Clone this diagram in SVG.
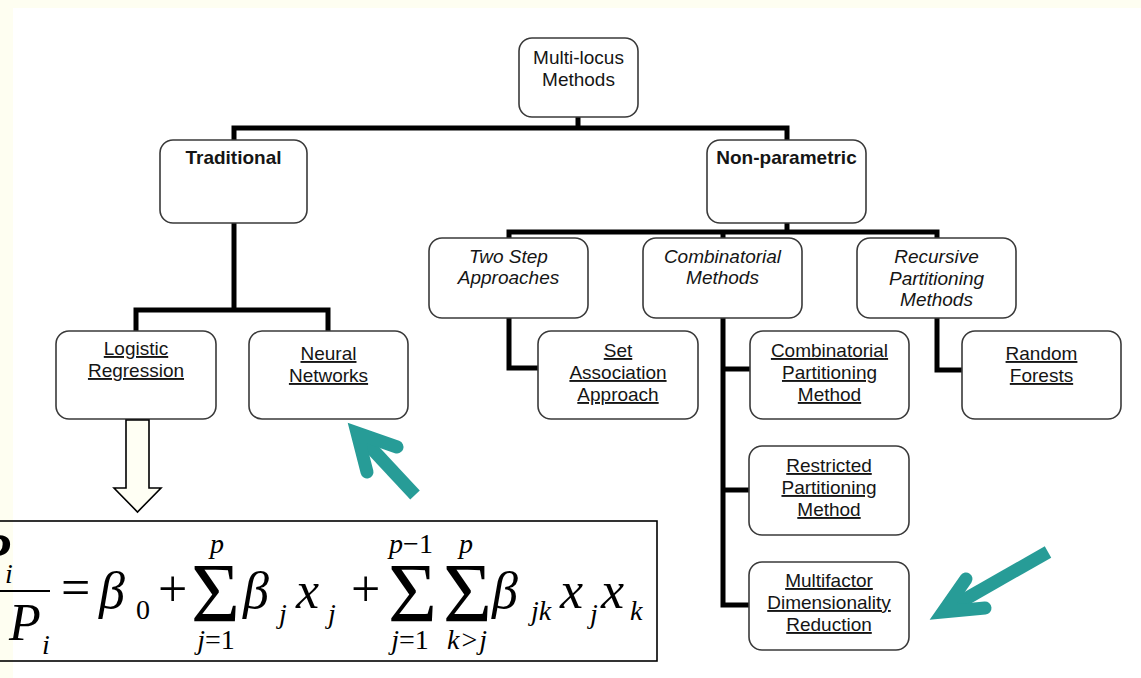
<svg xmlns="http://www.w3.org/2000/svg" width="1141" height="678" viewBox="0 0 1141 678">
<style>
.box{fill:#fff;stroke:#3a3a3a;stroke-width:1.6}
.t{font-family:"Liberation Sans",Arial,sans-serif;font-size:19px;fill:#151515;text-anchor:middle}
.b{font-weight:bold}
.i{font-style:italic}
.u{text-decoration:underline}
.conn{fill:none;stroke:#000;stroke-width:5;stroke-linejoin:miter;stroke-linecap:butt}
.f{font-family:"Liberation Serif","Times New Roman",serif;fill:#000}
.fi{font-style:italic}
.big{font-size:52px}
.sm{font-size:28px}
.sig{font-size:84px}
.teal{fill:none;stroke:#279C97;stroke-width:13}
</style>
<rect x="0" y="0" width="1141" height="678" fill="#FEFEF1"/>
<rect x="13" y="8" width="1128" height="670" fill="#fff"/>

<g id="connectors">
<path class="conn" d="M578,117 V128"/>
<path class="conn" d="M234,140 V128 H787 V140"/>
<path class="conn" d="M234,223 V310"/>
<path class="conn" d="M136,331 V310 H328 V331"/>
<path class="conn" d="M787,223 V232"/>
<path class="conn" d="M509,238 V232 H937 V238"/>
<path class="conn" d="M723,232 V238"/>
<path class="conn" d="M509,318 V368 H538"/>
<path class="conn" d="M937,318 V370 H962"/>
<path class="conn" d="M723,318 V605 H749"/>
<path class="conn" d="M723,369 H750"/>
<path class="conn" d="M723,490 H749"/>
</g>

<g id="root">
<rect class="box" x="519" y="38" width="119" height="79" rx="13"/>
<text class="t" x="578.5" y="64">Multi-locus</text>
<text class="t" x="578.5" y="86">Methods</text>
</g>
<g id="traditional">
<rect class="box" x="160" y="140" width="147" height="83" rx="13"/>
<text class="t b" x="233.5" y="164">Traditional</text>
</g>
<g id="nonparametric">
<rect class="box" x="707" y="140" width="159" height="83" rx="13"/>
<text class="t b" x="786.5" y="164">Non-parametric</text>
</g>
<g id="logistic">
<rect class="box" x="56" y="331" width="160" height="88" rx="13"/>
<text class="t u" x="136" y="355">Logistic</text>
<text class="t u" x="136" y="377">Regression</text>
</g>
<g id="neural">
<rect class="box" x="249" y="331" width="159" height="88" rx="13"/>
<text class="t u" x="328.5" y="360">Neural</text>
<text class="t u" x="328.5" y="382">Networks</text>
</g>
<g id="twostep">
<rect class="box" x="429" y="238" width="159" height="80" rx="13"/>
<text class="t i" x="508.5" y="263">Two Step</text>
<text class="t i" x="508.5" y="284">Approaches</text>
</g>
<g id="combinatorial">
<rect class="box" x="643" y="238" width="159" height="80" rx="13"/>
<text class="t i" x="722.5" y="263">Combinatorial</text>
<text class="t i" x="722.5" y="284">Methods</text>
</g>
<g id="recursive">
<rect class="box" x="857" y="238" width="159" height="80" rx="13"/>
<text class="t i" x="936.5" y="263">Recursive</text>
<text class="t i" x="936.5" y="285">Partitioning</text>
<text class="t i" x="936.5" y="306">Methods</text>
</g>
<g id="setassoc">
<rect class="box" x="538" y="331" width="160" height="88" rx="13"/>
<text class="t u" x="618" y="357">Set</text>
<text class="t u" x="618" y="379">Association</text>
<text class="t u" x="618" y="401">Approach</text>
</g>
<g id="combpart">
<rect class="box" x="750" y="331" width="159" height="88" rx="13"/>
<text class="t u" x="829.5" y="357">Combinatorial</text>
<text class="t u" x="829.5" y="379">Partitioning</text>
<text class="t u" x="829.5" y="401">Method</text>
</g>
<g id="restricted">
<rect class="box" x="749" y="446" width="160" height="89" rx="13"/>
<text class="t u" x="829" y="472">Restricted</text>
<text class="t u" x="829" y="494">Partitioning</text>
<text class="t u" x="829" y="516">Method</text>
</g>
<g id="mdr">
<rect class="box" x="749" y="562" width="160" height="88" rx="13"/>
<text class="t u" x="829" y="587">Multifactor</text>
<text class="t u" x="829" y="609">Dimensionality</text>
<text class="t u" x="829" y="631">Reduction</text>
</g>
<g id="randomforests">
<rect class="box" x="962" y="331" width="159" height="88" rx="13"/>
<text class="t u" x="1041.5" y="360">Random</text>
<text class="t u" x="1041.5" y="382">Forests</text>
</g>

<g id="down-arrow">
<polygon points="126,420 149,420 149,488 161,488 137.5,512 114,488 126,488" fill="#FFFFF4" stroke="#000" stroke-width="1.6"/>
</g>

<g id="formula">
<rect x="-5" y="521" width="662" height="140" fill="none" stroke="#000" stroke-width="1.6"/>
<text class="f fi big" x="-22" y="570" font-weight="bold">P</text>
<text class="f fi sm" x="5" y="583">i</text>
<line x1="-5" y1="591" x2="50" y2="591" stroke="#000" stroke-width="2"/>
<text class="f fi big" x="9" y="640">P</text>
<text class="f fi sm" x="42" y="654">i</text>
<text class="f big" x="61" y="605">=</text>
<text class="f fi big" x="99" y="608">β</text>
<text class="f sm" x="136" y="619">0</text>
<text class="f big" x="158" y="606">+</text>
<text class="f sig" x="191" y="622">Σ</text>
<text class="f fi sm" x="217" y="553" text-anchor="middle">p</text>
<text class="f sm" x="216" y="649" text-anchor="middle"><tspan class="fi">j</tspan>=1</text>
<text class="f fi big" x="243" y="608">β</text>
<text class="f fi sm" x="279" y="623">j</text>
<text class="f fi big" x="296" y="608">x</text>
<text class="f fi sm" x="328" y="623">j</text>
<text class="f big" x="351" y="606">+</text>
<text class="f sig" x="388" y="622">Σ</text>
<text class="f sm" x="411" y="553" text-anchor="middle"><tspan class="fi">p</tspan>−1</text>
<text class="f sm" x="410" y="649" text-anchor="middle"><tspan class="fi">j</tspan>=1</text>
<text class="f sig" x="443" y="622">Σ</text>
<text class="f fi sm" x="466" y="553" text-anchor="middle">p</text>
<text class="f sm" x="467" y="649" text-anchor="middle"><tspan class="fi">k</tspan><tspan dx="2">&gt;</tspan><tspan class="fi" dx="2">j</tspan></text>
<text class="f fi big" x="492" y="608">β</text>
<text class="f fi sm" x="531" y="620">jk</text>
<text class="f fi big" x="560" y="608">x</text>
<text class="f fi sm" x="590" y="623">j</text>
<text class="f fi big" x="601" y="608">x</text>
<text class="f fi sm" x="630" y="620">k</text>
</g>

<g id="teal-arrows">
<path class="teal" d="M360,436 L415,495" stroke-linecap="butt"/>
<path class="teal" d="M397,447 L357,433 L367,472" stroke-linecap="round" stroke-linejoin="miter" stroke-miterlimit="10"/>
<path class="teal" d="M948,609 L1048,552" stroke-linecap="butt"/>
<path class="teal" d="M966,579 L943,612 L985,608" stroke-linecap="round" stroke-linejoin="miter" stroke-miterlimit="10"/>
</g>
</svg>
